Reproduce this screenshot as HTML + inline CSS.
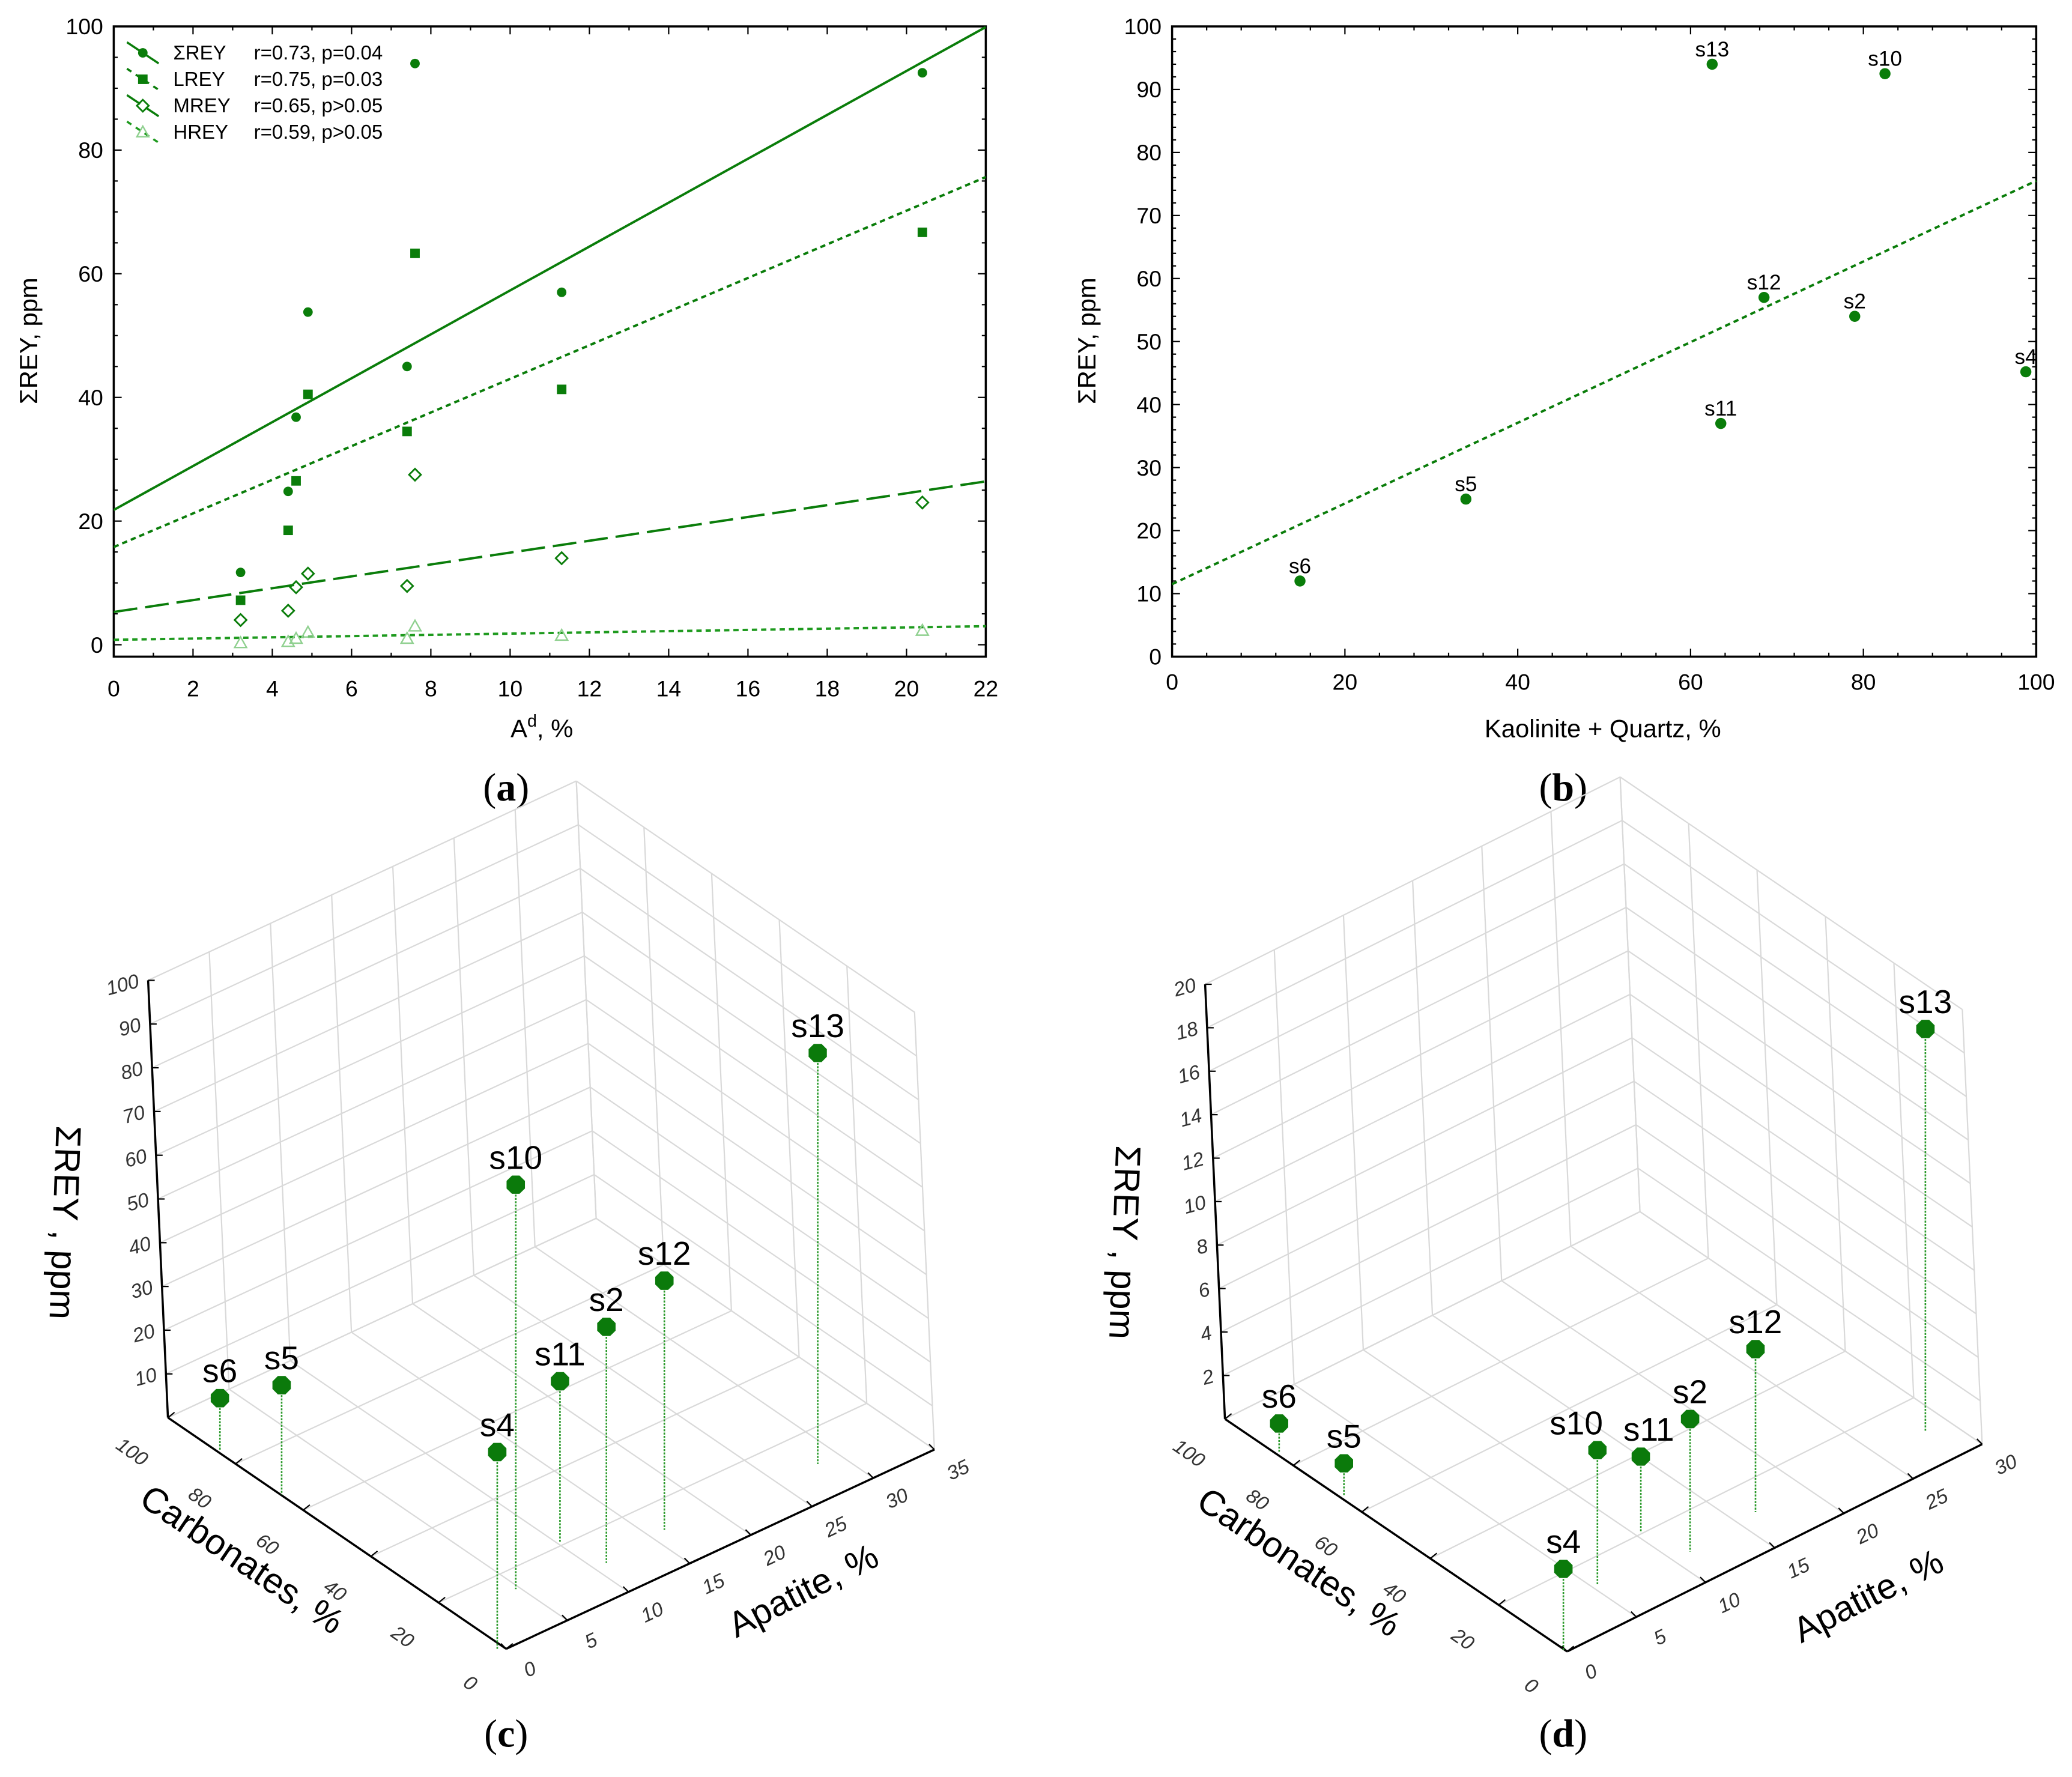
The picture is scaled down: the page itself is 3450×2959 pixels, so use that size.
<!DOCTYPE html>
<html><head><meta charset="utf-8"><style>
html,body{margin:0;padding:0;background:#fff;}
svg{display:block;}
text{font-family:"Liberation Sans",sans-serif;}
.cap{font-family:"Liberation Serif",serif;font-size:30px;}
</style></head><body>
<svg id="fig" xmlns="http://www.w3.org/2000/svg" width="3450" height="2959" viewBox="0 0 1568 1345">
<rect x="0" y="0" width="1568" height="1345" fill="#fff"/>
<text class="cap" x="383" y="606" text-anchor="middle">(<tspan font-weight="bold">a</tspan>)</text>
<text class="cap" x="1183" y="606" text-anchor="middle">(<tspan font-weight="bold">b</tspan>)</text>
<text class="cap" x="383" y="1322" text-anchor="middle">(<tspan font-weight="bold">c</tspan>)</text>
<text class="cap" x="1183" y="1322" text-anchor="middle">(<tspan font-weight="bold">d</tspan>)</text>
</svg>
<script>
// ---------- Panel (a) data ----------
const aAsh = [3.2, 4.4, 4.6, 4.9, 7.4, 7.6, 11.3, 20.4];
const aSum = [11.7, 24.8, 36.8, 53.8, 45, 94, 57, 92.5];
const aL = [7.2, 18.5, 26.5, 40.5, 34.5, 63.3, 41.3, 66.7];
const aM = [4, 5.5, 9.3, 11.5, 9.5, 27.5, 14, 23];
const aH = [0.3, 0.5, 1, 2, 1, 3, 1.5, 2.3];
const aFitIntercept = [21.8, 15.8, 5.3, 0.8];
const aFitSlope = [3.55, 2.72, 0.96, 0.1];
const aXTicks = [0, 2, 4, 6, 8, 10, 12, 14, 16, 18, 20, 22];
const aYTicks = [0, 20, 40, 60, 80, 100];
const aLegendNames = ["ΣREY", "LREY", "MREY", "HREY"];
const aLegendStats = ["r=0.73, p=0.04", "r=0.75, p=0.03", "r=0.65, p>0.05", "r=0.59, p>0.05"];
// ---------- Panel (b) data ----------
const bLabels = ["s6", "s5", "s13", "s11", "s12", "s2", "s10", "s4"];
const bX = [14.8, 34, 62.5, 63.5, 68.5, 79, 82.5, 98.8];
const bY = [12, 25, 94, 37, 57, 54, 92.5, 45.2];
const bFit = [11.5, 0.64];
const bXTicks = [0, 20, 40, 60, 80, 100];
const bYTicks = [0, 10, 20, 30, 40, 50, 60, 70, 80, 90, 100];
// ---------- Panels (c),(d) data ----------
const sLabels = ["s6", "s5", "s4", "s10", "s11", "s2", "s12", "s13"];
const sApatite = [0.3, 0.3, 0, 5.6, 10.5, 11.5, 16.7, 29.2];
const sCarb = [85, 66, 0, 12, 19.9, 8.8, 10.3, 8];
const cRey = [12, 25, 45, 92.5, 37, 54, 57, 94];
const dVal = [1.3, 1.5, 3.8, 6.2, 3.5, 6.1, 7.5, 18.5];
const cZTicks = [10, 20, 30, 40, 50, 60, 70, 80, 90, 100];
const dZTicks = [2, 4, 6, 8, 10, 12, 14, 16, 18, 20];
const cATicks = [0, 5, 10, 15, 20, 25, 30, 35];
const dATicks = [0, 5, 10, 15, 20, 25, 30];
const carbTicks = [0, 20, 40, 60, 80, 100];

const NS = "http://www.w3.org/2000/svg";
const svg = document.getElementById("fig");
const G = "#0a7d0a";
function el(tag, attrs, parent, txt) {
  const e = document.createElementNS(NS, tag);
  for (const k in attrs) e.setAttribute(k, attrs[k]);
  if (txt !== undefined) e.textContent = txt;
  (parent || svg).appendChild(e);
  return e;
}
function grp(name) {
  const g = document.createElementNS(NS, "g");
  
  
  svg.appendChild(g);
  return g;
}

// ===== Panel (a) =====
(function () {
  const g = grp("panel-a-scatter");
  const L = 86, R = 746, T = 20, B = 497;
  const sx = v => L + 30 * v, sy = v => 488 - 4.68 * v;
  const fr = el("rect", {x: L, y: T, width: R - L, height: B - T, fill: "none", stroke: "#000", "stroke-width": 1.6}, g);
  
  
  for (let v = 0; v <= 22; v += 1) {
    const len = v % 2 === 0 ? 6 : 3;
    el("line", {x1: sx(v), x2: sx(v), y1: B, y2: B - len, stroke: "#000", "stroke-width": 1}, g);
    el("line", {x1: sx(v), x2: sx(v), y1: T, y2: T + len, stroke: "#000", "stroke-width": 1}, g);
  }
  for (let v = 0; v <= 100; v += 5) {
    const len = v % 20 === 0 ? 6 : 3;
    el("line", {x1: L, x2: L + len, y1: sy(v), y2: sy(v), stroke: "#000", "stroke-width": 1}, g);
    el("line", {x1: R, x2: R - len, y1: sy(v), y2: sy(v), stroke: "#000", "stroke-width": 1}, g);
  }
  aXTicks.forEach(v => {
    const t = el("text", {x: sx(v), y: 527, "text-anchor": "middle", "font-size": 17}, g, String(v));
    
    
  });
  aYTicks.forEach(v => {
    const t = el("text", {x: 78, y: sy(v) + 6, "text-anchor": "end", "font-size": 17}, g, String(v));
    
    
  });
  const xt = el("text", {x: 410, y: 558, "text-anchor": "middle", "font-size": 19}, g);
  
  
  xt.innerHTML = 'A<tspan dy="-8" font-size="13">d</tspan><tspan dy="8">, %</tspan>';
  const yt = el("text", {x: 0, y: 0, "text-anchor": "middle", "font-size": 19, transform: "translate(28,258) rotate(-90)"}, g, "ΣREY, ppm");
  
  
  const dashes = ["", "4,3", "18,6", "4,3"];
  const colors = [G, G, G, "#1e9a1e"];
  const cp = el("clipPath", {id: "clipA"}, g);
  el("rect", {x: L, y: T, width: R - L, height: B - T}, cp);
  aFitIntercept.forEach((b0, i) => {
    const ln = el("line", {x1: sx(0), y1: sy(b0), x2: sx(22), y2: sy(b0 + aFitSlope[i] * 22), stroke: colors[i], "stroke-width": 1.8, "stroke-dasharray": dashes[i], "clip-path": "url(#clipA)"}, g);
    
    
  });
  function marker(kind, x, y, parent) {
    let m;
    if (kind === 0) m = el("circle", {cx: x, cy: y, r: 3.6, fill: G}, parent);
    else if (kind === 1) m = el("rect", {x: x - 3.6, y: y - 3.6, width: 7.2, height: 7.2, fill: G}, parent);
    else if (kind === 2) m = el("polygon", {points: `${x},${y - 4.5} ${x + 4.5},${y} ${x},${y + 4.5} ${x - 4.5},${y}`, fill: "none", stroke: G, "stroke-width": 1.3}, parent);
    else m = el("polygon", {points: `${x},${y - 4.5} ${x + 4.5},${y + 3.5} ${x - 4.5},${y + 3.5}`, fill: "none", stroke: "#8fd08f", "stroke-width": 1.1}, parent);
    return m;
  }
  [aSum, aL, aM, aH].forEach((ser, k) => {
    ser.forEach((v, i) => {
      const m = marker(k, sx(aAsh[i]), sy(v), g);
      
      
    });
  });
  aLegendNames.forEach((n, i) => {
    const y = 40 + i * 20;
    const lg = el("line", {x1: 96, y1: y - 8, x2: 120, y2: y + 8, stroke: colors[i], "stroke-width": 1.6, "stroke-dasharray": i === 0 ? "" : (i === 2 ? "12,5" : "4,4")}, g);
    
    
    marker(i, 108, y, g);
    const t1 = el("text", {x: 131, y: y + 5, "font-size": 15}, g, n);
    
    
    const t2 = el("text", {x: 192, y: y + 5, "font-size": 15}, g, aLegendStats[i]);
    
    
  });
})();

// ===== Panel (b) =====
(function () {
  const g = grp("panel-b-scatter");
  const L = 887, R = 1541, T = 20, B = 497;
  const sx = v => L + 6.54 * v, sy = v => B - 4.77 * v;
  const fr = el("rect", {x: L, y: T, width: R - L, height: B - T, fill: "none", stroke: "#000", "stroke-width": 1.6}, g);
  
  
  for (let v = 0; v <= 100; v += 4) {
    const len = v % 20 === 0 ? 6 : 3;
    el("line", {x1: sx(v), x2: sx(v), y1: B, y2: B - len, stroke: "#000", "stroke-width": 1}, g);
    el("line", {x1: sx(v), x2: sx(v), y1: T, y2: T + len, stroke: "#000", "stroke-width": 1}, g);
  }
  for (let v = 0; v <= 100; v += 2) {
    const len = v % 10 === 0 ? 6 : 3;
    el("line", {x1: L, x2: L + len, y1: sy(v), y2: sy(v), stroke: "#000", "stroke-width": 1}, g);
    el("line", {x1: R, x2: R - len, y1: sy(v), y2: sy(v), stroke: "#000", "stroke-width": 1}, g);
  }
  bXTicks.forEach(v => {
    const t = el("text", {x: sx(v), y: 522, "text-anchor": "middle", "font-size": 17}, g, String(v));
    
    
  });
  bYTicks.forEach(v => {
    const t = el("text", {x: 879, y: sy(v) + 6, "text-anchor": "end", "font-size": 17}, g, String(v));
    
    
  });
  const xt = el("text", {x: 1213, y: 558, "text-anchor": "middle", "font-size": 19}, g, "Kaolinite + Quartz, %");
  
  
  const yt = el("text", {x: 0, y: 0, "text-anchor": "middle", "font-size": 19, transform: "translate(829,258) rotate(-90)"}, g, "ΣREY, ppm");
  
  
  const ln = el("line", {x1: sx(0), y1: sy(bFit[0]), x2: sx(100), y2: sy(bFit[0] + bFit[1] * 100), stroke: G, "stroke-width": 1.8, "stroke-dasharray": "4,3"}, g);
  
  
  bX.forEach((x, i) => {
    const c = el("circle", {cx: sx(x), cy: sy(bY[i]), r: 4.2, fill: G}, g);
    
    
    const t = el("text", {x: sx(x), y: sy(bY[i]) - 6, "text-anchor": "middle", "font-size": 16}, g, bLabels[i]);
    
    
  });
})();

// ===== 3D panels =====
function panel3d(cfg) {
  const g = grp(cfg.name);
  const P = (a, c, z) => [cfg.O[0] + a * cfg.A[0] + c * cfg.C[0] + z * cfg.Z[0], cfg.O[1] + a * cfg.A[1] + c * cfg.C[1] + z * cfg.Z[1]];
  const line = (p, q, st, w, dash) => el("line", {x1: p[0], y1: p[1], x2: q[0], y2: q[1], stroke: st, "stroke-width": w, "stroke-dasharray": dash || ""}, g);
  const gc = "#d9d9d9", am = cfg.amax, zm = cfg.zmax;
  const zAll = [0].concat(cfg.zTicks);
  carbTicks.forEach(c => line(P(0, c, 0), P(am, c, 0), gc, 1));
  cfg.aTicks.forEach(a => line(P(a, 0, 0), P(a, 100, 0), gc, 1));
  cfg.aTicks.forEach(a => line(P(a, 100, 0), P(a, 100, zm), gc, 1));
  zAll.forEach(z => line(P(0, 100, z), P(am, 100, z), gc, 1));
  carbTicks.forEach(c => line(P(am, c, 0), P(am, c, zm), gc, 1));
  zAll.forEach(z => line(P(am, 0, z), P(am, 100, z), gc, 1));
  const ax1 = line(P(0, 0, 0), P(0, 100, 0), "#000", 1.6);
  
  
  const ax2 = line(P(0, 0, 0), P(am, 0, 0), "#000", 1.6);
  
  
  const ax3 = line(P(0, 100, 0), P(0, 100, zm), "#000", 1.6);
  
  
  carbTicks.forEach(c => {
    const p = P(0, c, 0);
    line(p, [p[0] + 5, p[1] - 4], "#000", 1);
    const t = el("text", {x: p[0] - 30, y: p[1] + 30, "text-anchor": "middle", "font-size": 15, "font-style": "italic", fill: "#333", transform: `rotate(35 ${p[0] - 30} ${p[1] + 30})`}, g, String(c));
    
    
  });
  cfg.aTicks.forEach(a => {
    const p = P(a, 0, 0);
    line(p, [p[0] - 4, p[1] - 4], "#000", 1);
    const t = el("text", {x: p[0] + 20, y: p[1] + 20, "text-anchor": "middle", "font-size": 15, "font-style": "italic", fill: "#333", transform: `rotate(-25 ${p[0] + 20} ${p[1] + 20})`}, g, String(a));
    
    
  });
  cfg.zTicks.forEach(z => {
    const p = P(0, 100, z);
    line(p, [p[0] + 5, p[1]], "#000", 1);
    const t = el("text", {x: p[0] - 6, y: p[1] + 5, "text-anchor": "end", "font-size": 15, "font-style": "italic", fill: "#333", transform: `rotate(-15 ${p[0] - 6} ${p[1] + 5})`}, g, String(z));
    
    
  });
  const t1 = el("text", {x: cfg.carbTitle[0], y: cfg.carbTitle[1], "text-anchor": "middle", "font-size": 27, transform: `rotate(34 ${cfg.carbTitle[0]} ${cfg.carbTitle[1]})`}, g, "Carbonates, %");
  
  
  const t2 = el("text", {x: cfg.apTitle[0], y: cfg.apTitle[1], "text-anchor": "middle", "font-size": 27, transform: `rotate(-27 ${cfg.apTitle[0]} ${cfg.apTitle[1]})`}, g, "Apatite, %");
  
  
  const t3 = el("text", {x: 0, y: 0, "text-anchor": "middle", "font-size": 27, transform: `translate(${cfg.zTitle[0]},${cfg.zTitle[1]}) rotate(92)`}, g, "ΣREY , ppm");
  
  
  cfg.vals.forEach((v, i) => {
    const top = P(sApatite[i], sCarb[i], v), foot = P(sApatite[i], sCarb[i], 0);
    const st = el("line", {x1: top[0], y1: top[1], x2: top[0], y2: foot[1], stroke: "#2a9a2a", "stroke-width": 1.2, "stroke-dasharray": "1.5,1"}, g);
    
    
    const r = 7.5, pts = [];
    for (let k = 0; k < 8; k++) { const an = Math.PI / 8 + k * Math.PI / 4; pts.push((top[0] + r * Math.cos(an)).toFixed(1) + "," + (top[1] + r * Math.sin(an)).toFixed(1)); }
    const m = el("polygon", {points: pts.join(" "), fill: "#0b7a0b"}, g);
    
    
    const dx = cfg.labelDx[i] || 0;
    const t = el("text", {x: top[0] + dx, y: top[1] - 12, "text-anchor": "middle", "font-size": 25}, g, sLabels[i]);
    
    
  });
}
panel3d({name: "panel-c-3d", O: [383, 1248], A: [9.26, -4.31], C: [-2.56, -1.75], Z: [-0.15, -3.31], amax: 35, zmax: 100,
  aTicks: cATicks, zTicks: cZTicks, vals: cRey, carbTitle: [178, 1188], apTitle: [612, 1212], zTitle: [40, 925], labelDx: [0, 0, 0, 0, 0, 0, 0, 0]});
panel3d({name: "panel-d-3d", O: [1186, 1250], A: [10.47, -5.23], C: [-2.59, -1.76], Z: [-0.75, -16.45], amax: 30, zmax: 20,
  aTicks: dATicks, zTicks: dZTicks, vals: dVal, carbTitle: [978, 1190], apTitle: [1418, 1216], zTitle: [842, 940], labelDx: [0, 0, 0, -16, 6, 0, 0, 0]});
</script>
</body></html>
